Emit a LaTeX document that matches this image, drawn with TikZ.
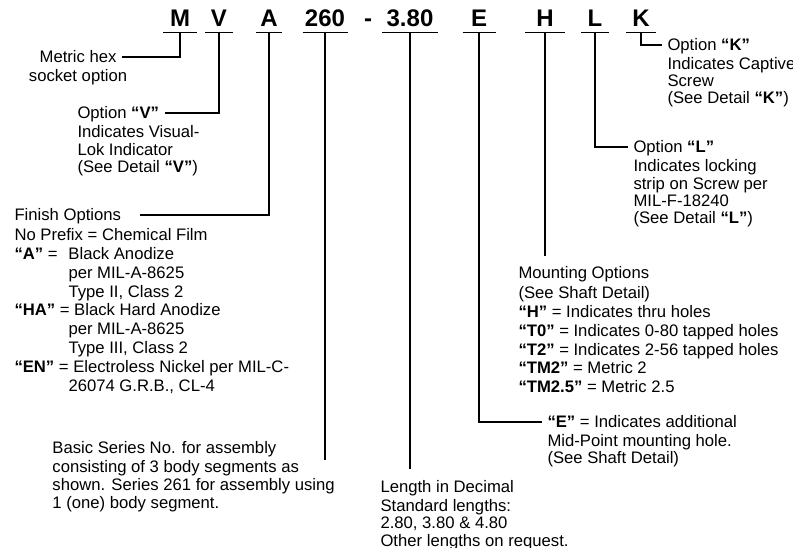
\documentclass[tikz,border=0pt]{standalone}
\usepackage{fontspec}
\setmainfont{Liberation Sans}
\tikzset{every picture/.style={line width=0.75pt}}
\tikzset{
  code/.style={font=\fontsize{18pt}{18pt}\selectfont\bfseries, anchor=base, text depth=0pt, inner xsep=0pt, inner ysep=3.75pt},
  lbl/.style={font={\fontsize{12.5pt}{#1}\selectfont}, inner xsep=3.75pt, inner ysep=0pt, text depth=0.3*#1, text height=8.95pt+0.3*#1},
  lbl/.default=12.75pt,
  lblbody/.style={font={\fontsize{12.5pt}{#1}\selectfont}, inner xsep=3.75pt, inner ysep=0pt, align=left, anchor=north west},
  lblbody/.default=12.75pt,
  link/.style={line width=1.4pt},
}
\newcommand{\qt}[1]{\textbf{“#1”}}

\begin{document}
\begin{tikzpicture}[x=0.75pt,y=0.75pt,yscale=-1,xscale=1]
	\useasboundingbox (0,0) rectangle (793,548);

	% Part number
	\foreach \nm/\txt/\x/\w in {M/M/180/24.75pt, V/V/219/20.25pt, A/A/269/18.75pt, 260/260/325/33pt, 380/3.80/410/41.25pt, E/E/479/24pt, H/H/545/29.25pt, L/L/595/20.25pt, K/K/641/21.75pt}{
		\node[code, minimum width=\w] (c\nm) at (\x,27) {\txt};
		\draw[link] (c\nm.south west) -- (c\nm.south east);
	}
	\node[code] (cdash) at (368,27) {-};

	% Metric hex
	\node[lbl, anchor=east] (metric) at (122,57) {Metric hex};
	\node[lblbody, anchor=north, align=center] (metricbody) at (metric.south) {\strut socket option};
	\draw[link] (cM.south) |- (metric.east);

	% Option V
	\node[lbl, anchor=west] (optV) at (72,113) {Option \qt{V}};
	\node[lblbody] (optVbody) at (optV.south west) {\strut Indicates Visual-\\Lok Indicator\\(See Detail \qt{V})};
	\draw[link] (cV.south) |- (optV.east);

	% Finish
	\node[lbl=14.1pt, anchor=west] (finish) at (9,215) {Finish Options};
	\node[lblbody=14.1pt] (finishbody) at (finish.south west) {\strut No Prefix = Chemical Film\\
		\makebox[40.5pt][l]{\qt{A} =}Black Anodize\\
		\hspace*{40.5pt}per MIL-A-8625\\
		\hspace*{40.5pt}Type II, Class 2\\
		\qt{HA} = Black Hard Anodize\\
		\hspace*{40.5pt}per MIL-A-8625\\
		\hspace*{40.5pt}Type III, Class 2\\
		\qt{EN} = Electroless Nickel per MIL-C-\\
		\hspace*{40.5pt}26074 G.R.B., CL-4};
	\draw[link, shorten >=9.75pt] (cA.south) |- (finish.east);

	% Basic series
	\node[lbl=13.5pt, anchor=west] (basic) at (47,448) {Basic Series No. for assembly};
	\node[lblbody=13.5pt] (basicbody) at (basic.south west) {\strut consisting of 3 body segments as\\shown. Series 261 for assembly using\\1 (one) body segment.};
	\draw[link] (c260.south) -- (c260.south |- basic.south);

	% Length
	\node[lbl=13.1pt, anchor=west] (length) at (375,487) {Length in Decimal};
	\node[lblbody=13.1pt] (lengthbody) at (length.south west) {\strut Standard lengths:\\2.80, 3.80 \& 4.80\\Other lengths on request.};
	\draw[link, shorten >=4.35pt] (c380.south) -- (c380.south |- length.north);

	% Option E
	\node[lbl=13.1pt, anchor=west] (optE) at (542,422) {\qt{E} = Indicates additional};
	\node[lblbody=13.1pt] (optEbody) at (optE.south west) {\strut Mid-Point mounting hole.\\(See Shaft Detail)};
	\draw[link] (cE.south) |- (optE.west);

	% Mounting
	\node[lbl=14.1pt, anchor=west] (mount) at (513,273) {Mounting Options};
	\node[lblbody=14.1pt] (mountbody) at (mount.south west) {\strut (See Shaft Detail)\\\qt{H} = Indicates thru holes\\\qt{T0} = Indicates 0-80 tapped holes\\\qt{T2} = Indicates 2-56 tapped holes\\\qt{TM2} = Metric 2\\\qt{TM2.5} = Metric 2.5};
	\draw[link, shorten >=3.3pt] (cH.south) -- (cH.south |- mount.north);

	% Option L
	\node[lbl, anchor=west] (optL) at (628,147) {Option \qt{L}};
	\node[lblbody] (optLbody) at (optL.south west) {\strut Indicates locking\\strip on Screw per\\MIL-F-18240\\(See Detail \qt{L})};
	\draw[link] (cL.south) |- (optL.west);

	% Option K
	\node[lbl, anchor=west] (optK) at (662,45) {Option \qt{K}};
	\node[lblbody] (optKbody) at (optK.south west) {\strut Indicates Captive\\Screw\\(See Detail \qt{K})};
	\draw[link] (cK.south) |- (optK.west);

\end{tikzpicture}
\end{document}
